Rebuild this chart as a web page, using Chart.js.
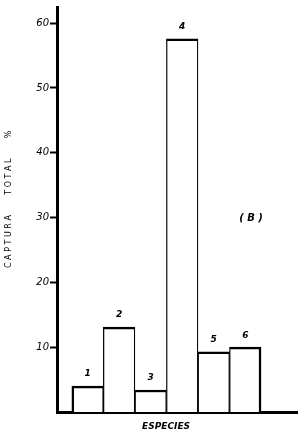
<!DOCTYPE html>
<html>
<head>
<meta charset="utf-8">
<script src="https://cdn.jsdelivr.net/npm/chart.js@4"></script>
<style>
    html, body { margin: 0; padding: 0; background: #fff; }
    #wrap { width: 300px; height: 434px; }
</style>
</head>
<body>
<div id="wrap"><canvas id="chart"></canvas></div>
<script>
const SPECIES = [1, 2, 3, 4, 5, 6];
const CATCH_PCT = [4.0, 13.1, 3.4, 57.6, 9.3, 10.0];
const BAR_LABELS = ['1', '2', '3', '4', '5', '6'];
const Y_TICKS = [10, 20, 30, 40, 50, 60];
const PANEL_TAG = '( B )';

const BLACK = '#000';
const FONT = "'DejaVu Sans', sans-serif";

// numbers above the bars + the panel tag
const barLabels = {
    id: 'barLabels',
    afterDatasetsDraw(chart) {
        var ctx = chart.ctx;
        var bars = chart.getDatasetMeta(0).data;
        ctx.save();
        ctx.fillStyle = BLACK;
        ctx.textAlign = 'center';
        ctx.textBaseline = 'middle';
        ctx.font = 'italic bold 9px ' + FONT;
        for (let i = 0; i < bars.length; i++) {
            ctx.fillText(BAR_LABELS[i], bars[i].x, bars[i].y - 12);
        }
        ctx.font = 'italic bold 10px ' + FONT;
        ctx.fillText(PANEL_TAG, 251, 218);
        ctx.restore();
    }
};

// shared edges between neighbouring bars should look like one line
function sideWidth(i, side) {
    if (side === 'left' && i === 0) return 2.5;
    if (side === 'right' && i === SPECIES.length - 1) return 2.5;
    return 1.25;
}

var chart = new Chart(document.getElementById('chart'), {
    type: 'bar',
    data: {
        datasets: [{
            data: SPECIES.map((s, i) => ({ x: s, y: CATCH_PCT[i] })),
            backgroundColor: '#fff',
            borderColor: BLACK,
            borderWidth: (c) => ({
                top: 2.5,
                left: sideWidth(c.dataIndex, 'left'),
                right: sideWidth(c.dataIndex, 'right'),
                bottom: 0
            }),
            borderSkipped: false,
            barPercentage: 1,
            categoryPercentage: 1
        }]
    },
    options: {
        responsive: true,
        maintainAspectRatio: false,
        animation: false,
        layout: { padding: { top: 6, right: 3, bottom: 0, left: 0 } },
        plugins: {
            legend: { display: false },
            tooltip: { enabled: false }
        },
        scales: {
            x: {
                type: 'linear',
                offset: false,
                min: 0.03,
                max: 7.64,
                grid: { display: false, offset: false },
                ticks: { display: false },
                border: { display: true, color: BLACK, width: 3 },
                title: {
                    display: true,
                    text: 'ESPECIES       ',
                    color: BLACK,
                    font: { family: FONT, size: 9, weight: 'bold', style: 'italic' },
                    padding: { top: 0, bottom: 2 }
                },
                afterFit: (axis) => { axis.height = 22; }
            },
            y: {
                min: 0,
                max: 62.5,
                afterBuildTicks: (axis) => {
                    axis.ticks = Y_TICKS.map(v => ({ value: v }));
                },
                grid: {
                    drawOnChartArea: false,
                    drawTicks: true,
                    tickLength: 7,
                    tickColor: BLACK,
                    tickWidth: 2
                },
                border: { display: true, color: BLACK, width: 3 },
                ticks: {
                    color: BLACK,
                    padding: 1,
                    font: { family: FONT, size: 10, style: 'italic' }
                },
                title: {
                    display: true,
                    text: '        C A P T U R A        T O T A L        %',
                    color: BLACK,
                    font: { family: FONT, size: 8 },
                    padding: { top: 4, bottom: 0 }
                },
                afterFit: (axis) => { axis.width = 57; }
            }
        }
    },
    plugins: [barLabels]
});
</script>
</body>
</html>
